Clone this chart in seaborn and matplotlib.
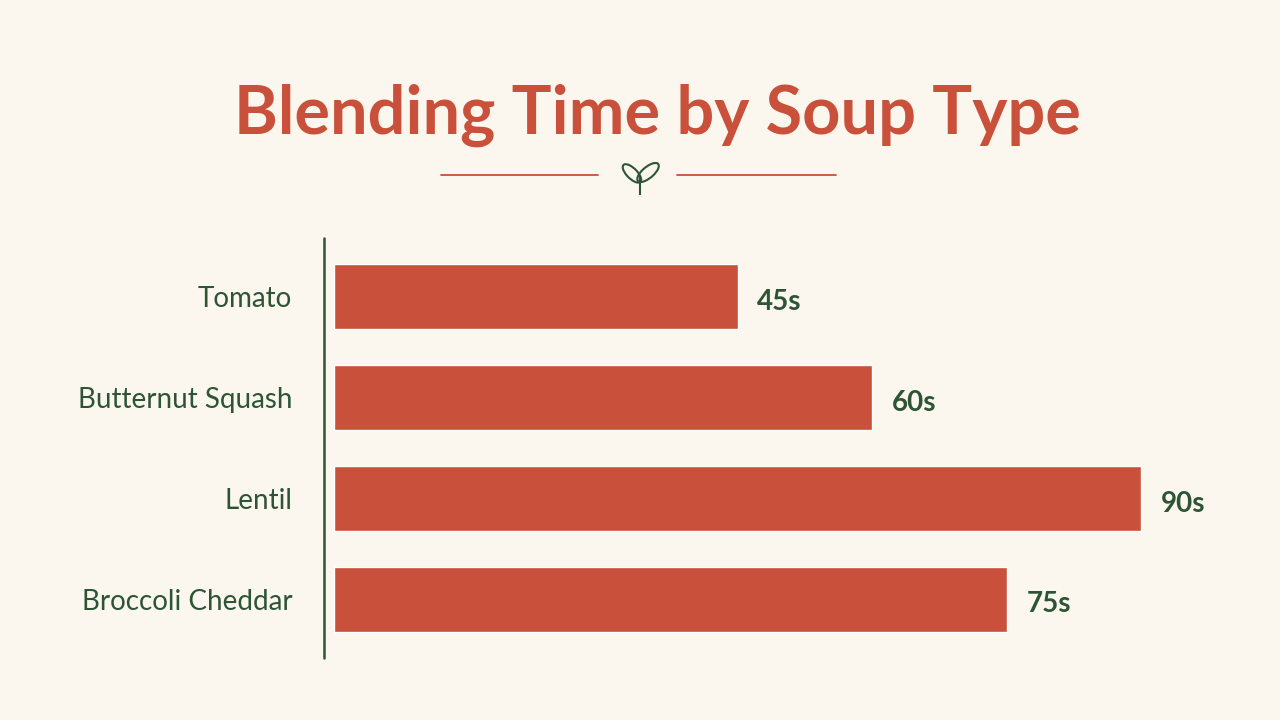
import matplotlib
matplotlib.use("Agg")
import matplotlib.pyplot as plt
from matplotlib.patches import Ellipse
from matplotlib.lines import Line2D
import seaborn as sns
import pandas as pd

soups = ["Tomato", "Butternut Squash", "Lentil", "Broccoli Cheddar"]
seconds = [45, 60, 90, 75]

BG = "#FBF7EE"
RED = "#C9503A"
GREEN = "#2E5436"

sns.set_style("white")
plt.rcParams["font.family"] = ["Lato", "DejaVu Sans"]

df = pd.DataFrame({"soup": soups, "seconds": seconds})

fig = plt.figure(figsize=(12.8, 7.2), dpi=100, facecolor=BG)
ax = fig.add_axes([334 / 1280, 1 - 658 / 720, 897 / 1280, 420 / 720])
ax.set_facecolor(BG)

sns.barplot(data=df, x="seconds", y="soup", orient="h", color=RED,
            saturation=1, width=0.65, ax=ax)
ax.set_xlim(0, 100)
ax.set_ylim(3.58, -0.58)
for i, v in enumerate(seconds):
    ax.text(v + 2.2, i + 0.05, f"{v}s", va="center", ha="left",
            fontsize=20, fontweight="bold", color=GREEN)

ax.set_xticks([])
ax.set_yticks(range(len(soups)))
ax.set_yticklabels(soups, fontsize=20, color=GREEN)
ax.tick_params(axis="y", length=0, pad=30)
ax.set_xlabel("")
ax.set_ylabel("")
sns.despine(ax=ax, left=True, bottom=True)

# vertical axis line slightly left of the bars
fig.add_artist(Line2D([324 / 1280, 324 / 1280], [1 - 238 / 720, 1 - 658 / 720],
                      color=GREEN, lw=1.8))

fig.text(657 / 1280, 1 - 115 / 720, "Blending Time by Soup Type", ha="center",
         va="center", fontsize=48, fontweight="bold", color=RED)

# decorative rule with leaf
for x0, x1 in [(441, 598), (677, 836)]:
    fig.add_artist(Line2D([x0 / 1280, x1 / 1280], [1 - 175 / 720] * 2,
                          color=RED, lw=1.3))
leaf = fig.add_axes([617 / 1280, 1 - 195 / 720, 46 / 1280, 36 / 720])
leaf.set_xlim(-1, 1)
leaf.set_ylim(-1, 1)
leaf.axis("off")
leaf.add_patch(Ellipse((-0.35, 0.2), 0.5, 1.2, angle=35, fill=False,
                       ec=GREEN, lw=1.5))
leaf.add_patch(Ellipse((0.35, 0.25), 0.55, 1.3, angle=-40, fill=False,
                       ec=GREEN, lw=1.5))
leaf.plot([0, 0], [-1, 0], color=GREEN, lw=1.5)

fig.savefig("out.png", dpi=100, facecolor=BG)
